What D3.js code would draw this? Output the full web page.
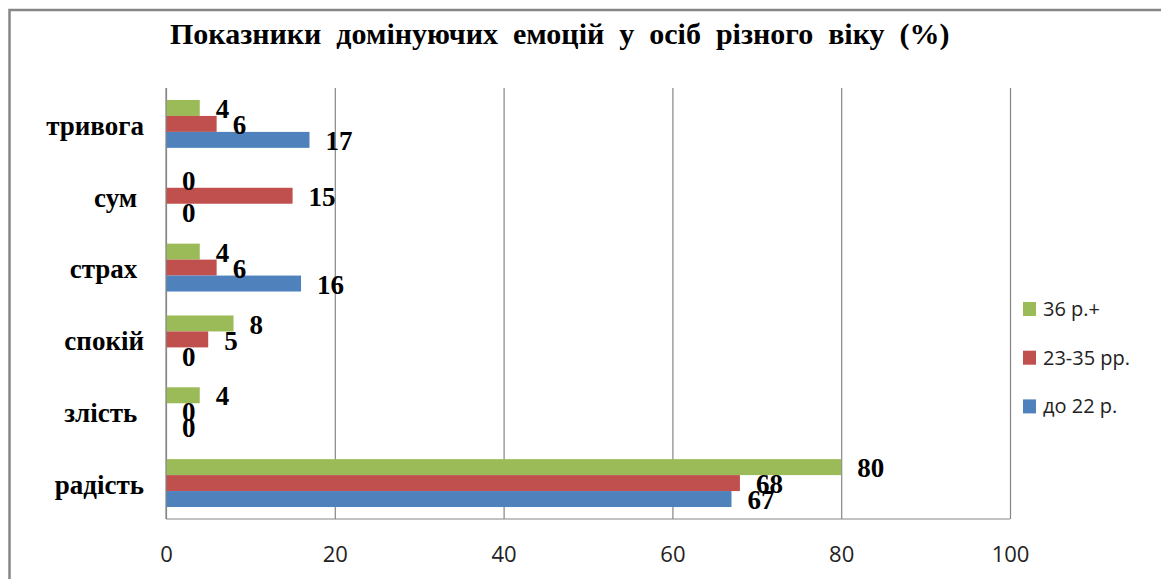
<!DOCTYPE html>
<html>
<head>
<meta charset="utf-8">
<script src="https://cdn.jsdelivr.net/npm/d3@7"></script>
<style>
  body { margin: 0; background: #fff; }
  svg text { white-space: pre; }
</style>
</head>
<body>
<svg class="chart" width="1161" height="579"></svg>
<script>
// categories, top to bottom as drawn
const categories = ['тривога', 'сум ', 'страх ', 'спокій', 'злість ', 'радість'];
// series, top bar to bottom bar inside a group
const seriesNames = ['36 р.+', '23-35 рр.', 'до 22 р.'];
const seriesColors = ['#9BBB59', '#C0504D', '#4F81BD'];
const valuesOld = [4, 0, 4, 8, 4, 80];       // 36 р.+
const valuesMid = [6, 15, 6, 5, 0, 68];      // 23-35 рр.
const valuesYoung = [17, 0, 16, 0, 0, 67];   // до 22 р.
const xTicks = [0, 20, 40, 60, 80, 100];
const title = 'Показники  домінуючих  емоцій  у  осіб  різного  віку  (%)';

const seriesValues = [valuesOld, valuesMid, valuesYoung];

let svg = d3.select('.chart');

let margin = { top: 88, bottom: 519, left: 166, right: 1010 };

// outer frame (only left and top are visible in the picture)
svg.append('rect')
    .attr('x', 9.5).attr('y', 10)
    .attr('width', 1200).attr('height', 620)
    .style('fill', 'none')
    .style('stroke', '#868686')
    .style('stroke-width', 2.5);

let xscale = d3.scaleLinear()
    .domain([0, 100])
    .range([margin.left, margin.right]);

let yscale = d3.scaleBand()
    .domain(categories)
    .range([margin.top, margin.bottom])
    .paddingInner(1 / 3)
    .paddingOuter(1 / 6);

let ysub = d3.scaleBand()
    .domain(seriesNames)
    .range([0, yscale.bandwidth()]);

// gridlines
let grid = svg.append('g').attr('class', 'grid')
    .attr('transform', `translate(0,${margin.bottom})`)
    .call(d3.axisBottom(xscale).tickValues(xTicks)
        .tickSize(-(margin.bottom - margin.top))
        .tickFormat(''));
grid.select('.domain').remove();
grid.selectAll('line').style('stroke', '#868686').style('stroke-width', 1.2);

// bottom line of plot
svg.append('line')
    .attr('x1', margin.left).attr('x2', margin.right)
    .attr('y1', margin.bottom).attr('y2', margin.bottom)
    .style('stroke', '#868686').style('stroke-width', 1.2);

// x tick labels
let xAxis = svg.append('g').attr('class', 'xAxis')
    .attr('transform', `translate(0,${margin.bottom})`)
    .call(d3.axisBottom(xscale).tickValues(xTicks).tickSize(0).tickPadding(27));
xAxis.select('.domain').remove();
xAxis.selectAll('text')
    .style('font-family', '"Open Sans", sans-serif')
    .style('font-size', '22px')
    .style('fill', '#222');

// category labels
let yAxis = svg.append('g').attr('class', 'yAxis')
    .attr('transform', `translate(${margin.left},0)`)
    .call(d3.axisLeft(yscale).tickSize(0).tickPadding(22));
yAxis.select('.domain').remove();
yAxis.selectAll('text')
    .attr('dy', '0.4em')
    .style('font-family', '"Liberation Serif", "Times New Roman", serif')
    .style('font-weight', 'bold')
    .style('font-size', '27px')
    .style('fill', '#000');

// bars
let rows = [];
seriesNames.forEach((s, si) => {
    categories.forEach((c, ci) => {
        rows.push({ series: s, color: seriesColors[si], cat: c, value: seriesValues[si][ci] });
    });
});

svg.append('g').selectAll('rect')
    .data(rows)
    .join('rect')
    .attr('x', xscale(0))
    .attr('y', d => yscale(d.cat) + ysub(d.series))
    .attr('width', d => xscale(d.value) - xscale(0))
    .attr('height', ysub.bandwidth())
    .style('fill', d => d.color);

// data labels
svg.append('g').selectAll('text')
    .data(rows)
    .join('text')
    .attr('x', d => xscale(d.value) + 16)
    .attr('y', d => yscale(d.cat) + ysub(d.series) + ysub.bandwidth() / 2 + 1)
    .attr('dy', '0.34em')
    .style('font-family', '"Liberation Serif", "Times New Roman", serif')
    .style('font-weight', 'bold')
    .style('font-size', '27px')
    .style('fill', '#000')
    .text(d => d.value);

// left axis line
svg.append('line')
    .attr('x1', margin.left).attr('x2', margin.left)
    .attr('y1', margin.top).attr('y2', margin.bottom)
    .style('stroke', '#868686').style('stroke-width', 1.2);

// title
svg.append('text')
    .attr('x', 170).attr('y', 44)
    .style('font-family', '"Liberation Serif", "Times New Roman", serif')
    .style('font-weight', 'bold')
    .style('font-size', '30px')
    .style('fill', '#000')
    .text(title);

// legend
let legend = svg.append('g').attr('class', 'legend')
    .selectAll('g')
    .data(seriesNames)
    .join('g')
    .attr('transform', (d, i) => `translate(1023,${309 + i * 48.7})`);

legend.append('rect')
    .attr('x', 0).attr('y', -7)
    .attr('width', 13).attr('height', 14)
    .style('fill', (d, i) => seriesColors[i]);

legend.append('text')
    .attr('x', 20).attr('y', 0)
    .attr('dy', '0.35em')
    .style('font-family', '"Open Sans", sans-serif')
    .style('font-size', '20px')
    .style('fill', '#222')
    .text(d => d);
</script>
</body>
</html>
